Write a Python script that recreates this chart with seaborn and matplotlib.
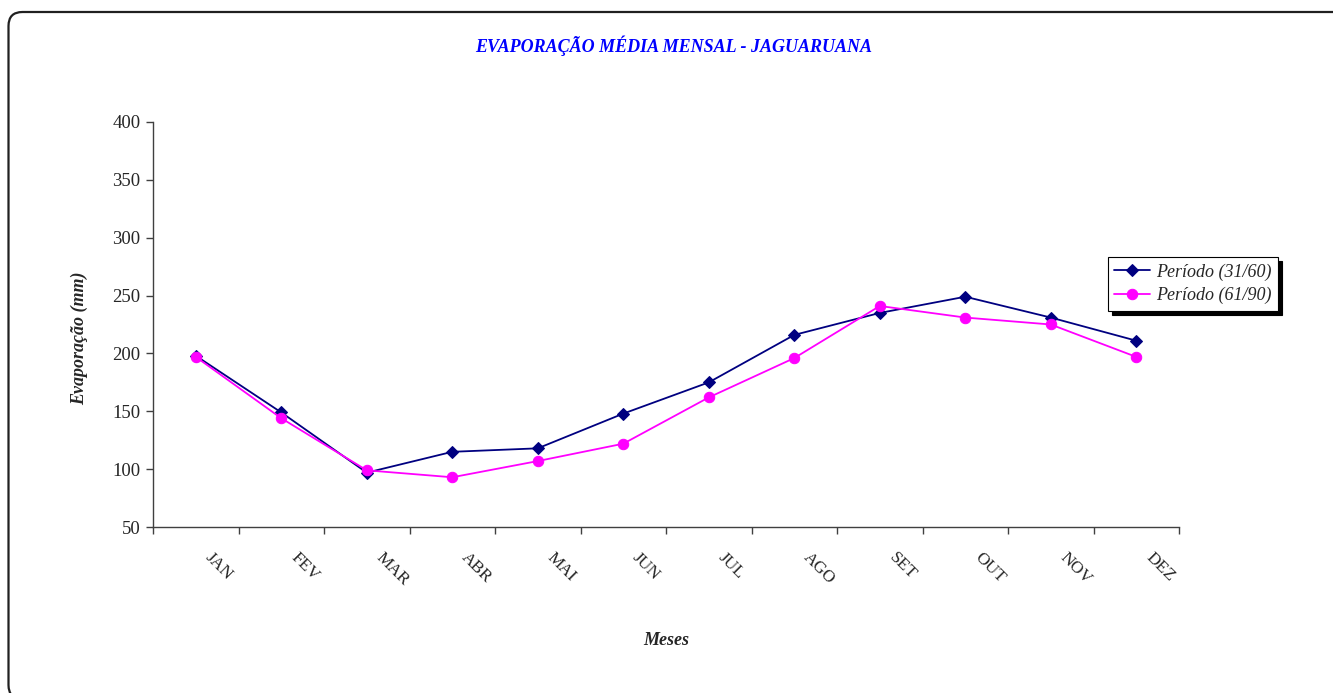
import matplotlib
matplotlib.use("Agg")
import matplotlib.pyplot as plt
from matplotlib.patches import FancyBboxPatch
from matplotlib.transforms import IdentityTransform, ScaledTranslation
from matplotlib.ticker import FixedLocator
import seaborn as sns
import pandas as pd

months = ["JAN", "FEV", "MAR", "ABR", "MAI", "JUN", "JUL", "AGO", "SET", "OUT", "NOV", "DEZ"]
periodo_31_60 = [198, 149, 97, 115, 118, 148, 175, 216, 235, 249, 231, 211]
periodo_61_90 = [197, 144, 99, 93, 107, 122, 162, 196, 241, 231, 225, 197]
series_names = ["Período (31/60)", "Período (61/90)"]
y_ticks = [50, 100, 150, 200, 250, 300, 350, 400]

sns.set_theme(style="white")
plt.rcParams["font.family"] = ["Liberation Serif", "DejaVu Serif"]

fig = plt.figure(figsize=(13.33, 6.93), dpi=100)
ax = fig.add_axes([0.1148, 0.2395, 0.7697, 0.5845])

df = pd.DataFrame({"Mês": months, "a": periodo_31_60, "b": periodo_61_90})

sns.lineplot(data=df, x="Mês", y="a", ax=ax, color="#000080", marker="D",
             markersize=6, markeredgecolor="#000080", linewidth=1.3,
             label=series_names[0], sort=False)
sns.lineplot(data=df, x="Mês", y="b", ax=ax, color="#FF00FF", marker="o",
             markersize=7.5, markeredgecolor="#FF00FF", linewidth=1.3,
             label=series_names[1], sort=False)

ax.set_xlim(-0.5, len(months) - 0.5)
ax.set_ylim(50, 400)
ax.set_yticks(y_ticks)
ax.set_yticklabels([str(v) for v in y_ticks], fontsize=13.5)

ax.set_xticks(range(len(months)))
ax.set_xticklabels(months, fontsize=12.5, rotation=-45, ha="left", va="top")
ax.xaxis.set_minor_locator(FixedLocator([i - 0.5 for i in range(len(months) + 1)]))
ax.tick_params(axis="x", which="major", length=0, pad=16)
ax.tick_params(axis="x", which="minor", length=5, width=1, color="#404040",
               direction="out", bottom=True)
ax.tick_params(axis="y", which="major", length=5, width=1, color="#404040",
               direction="out", left=True, pad=4)

# nudge the slanted month labels to the right of their category centres
shift = ScaledTranslation(6 / 100, 0, fig.dpi_scale_trans)
for lbl in ax.get_xticklabels():
    lbl.set_transform(lbl.get_transform() + shift)

for side in ["top", "right"]:
    ax.spines[side].set_visible(False)
for side in ["left", "bottom"]:
    ax.spines[side].set_color("#404040")
    ax.spines[side].set_linewidth(1)

ax.set_xlabel("Meses", fontsize=13, fontweight="bold", fontstyle="italic")
ax.set_ylabel("Evaporação (mm)", fontsize=13, fontweight="bold", fontstyle="italic")
ax.xaxis.set_label_coords(0.5, -0.258)
ax.yaxis.set_label_coords(-0.063, 0.467)
ax.grid(False)

leg = ax.legend(loc="upper left", bbox_to_anchor=(1108 / 1333, 1 - 257 / 693),
                bbox_transform=fig.transFigure, borderaxespad=0, fancybox=False,
                frameon=True, edgecolor="#000000", framealpha=1,
                prop={"family": "Liberation Serif", "style": "italic", "size": 13},
                shadow={"ox": 3, "oy": -3, "color": "black", "alpha": 1.0},
                handlelength=2.0, handletextpad=0.3, borderpad=0.35,
                labelspacing=0.35)
leg.get_frame().set_linewidth(0.8)

fig.text(0.505, 1 - 46 / 693, "EVAPORAÇÃO MÉDIA MENSAL - JAGUARUANA",
         ha="center", va="center", color="#0000FF", fontsize=13,
         fontweight="bold", fontstyle="italic")

frame = FancyBboxPatch((8.5, -6), 1340, 687, boxstyle="round,pad=0,rounding_size=14",
                       transform=IdentityTransform(), fill=False,
                       edgecolor="#202020", linewidth=1.6)
fig.patches.append(frame)

fig.savefig("out.png", dpi=100)
